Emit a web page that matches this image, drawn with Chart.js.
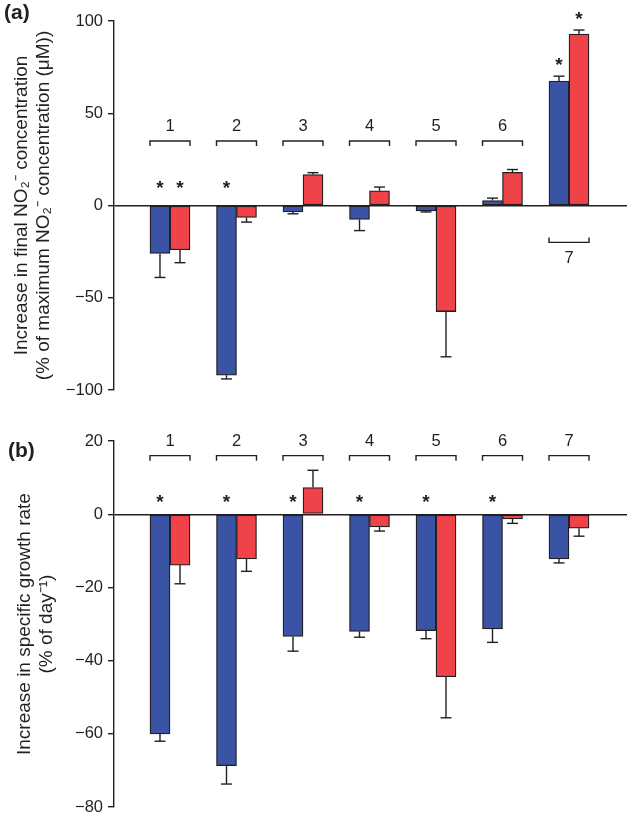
<!DOCTYPE html>
<html>
<head>
<meta charset="utf-8">
<script src="https://cdn.jsdelivr.net/npm/chart.js@4"></script>
<style>
  body { margin: 0; background: #fff; }
  #page { position: relative; width: 628px; height: 822px; font-family: "Liberation Sans", Arial, sans-serif; }
  .panel { position: absolute; left: 0; }
  .tag { position: absolute; font-weight: bold; font-size: 21px; color: #231f20; }
</style>
</head>
<body>
<div id="page">
  <div class="panel" style="top:0"><canvas id="chartA" width="628" height="410"></canvas></div>
  <div class="panel" style="top:410px"><canvas id="chartB" width="628" height="412"></canvas></div>
  <div class="tag" style="left:4px;top:0px">(a)</div>
  <div class="tag" style="left:8px;top:438px">(b)</div>
</div>
<script>
// treatment groups 1-7
const groups = ["1", "2", "3", "4", "5", "6", "7"];

// (a) increase in final NO2- concentration, % of maximum
const nitriteBlue = [-26, -92, -3.5, -7.6, -3, 2.7, 67.4];
const nitriteBlueErr = [13, 2, 1, 6, 0.5, 1.3, 2.7];
const nitriteRed = [-24, -6.5, 16.8, 8, -57.5, 18, 92.9];
const nitriteRedErr = [7, 2.5, 1, 2, 24.5, 1.5, 2.2];
const nitriteStarsBlue = [true, true, false, false, false, false, true];
const nitriteStarsRed = [true, false, false, false, false, false, true];
const nitriteTicks = [-100, -50, 0, 50, 100];

// (b) increase in specific growth rate, % of day-1
const growthBlue = [-60, -68.7, -33.4, -32, -31.8, -31.3, -12.2];
const growthBlueErr = [2, 5, 4, 1.6, 2.2, 3.7, 1.1];
const growthRed = [-13.9, -12.2, 7.3, -3.5, -44.4, -1.3, -3.8];
const growthRedErr = [5.1, 3.4, 4.7, 1.1, 11.2, 1.2, 2.2];
const growthStarsBlue = [true, true, true, true, true, true, false];
const growthStarsRed = [false, false, false, false, false, false, false];
const growthTicks = [-80, -60, -40, -20, 0, 20];

const BLUE = "#3a53a5";
const RED = "#ef4349";
const INK = "#231f20";
const FONT = "'Liberation Sans', Arial, sans-serif";

// draws error bars, asterisks and the numbered brackets
const annotatePlugin = {
  id: "annotate",
  afterDatasetsDraw(chart, args, opts) {
    const ctx = chart.ctx;
    const yScale = chart.scales.y;
    const metas = [chart.getDatasetMeta(0), chart.getDatasetMeta(1)];

    ctx.save();
    ctx.strokeStyle = INK;
    ctx.fillStyle = INK;
    ctx.lineWidth = 1.4;

    const line = (x1, y1, x2, y2) => {
      ctx.beginPath();
      ctx.moveTo(x1, y1);
      ctx.lineTo(x2, y2);
      ctx.stroke();
    };

    metas.forEach((meta, d) => {
      const values = chart.data.datasets[d].data;
      meta.data.forEach((bar, i) => {
        const v = values[i];
        const e = opts.errors[d][i];
        const end = v >= 0 ? v + e : v - e;
        const py0 = yScale.getPixelForValue(v);
        const py1 = yScale.getPixelForValue(end);
        line(bar.x, py0, bar.x, py1);
        line(bar.x - 5.5, py1, bar.x + 5.5, py1);

        if (opts.stars[d][i]) {
          let sy;
          if (v >= 0) sy = py1 - 14;
          else sy = yScale.getPixelForValue(opts.starLevel);
          ctx.font = "bold 19px " + FONT;
          ctx.textAlign = "center";
          ctx.textBaseline = "middle";
          ctx.fillText("*", bar.x, sy + 4);
        }
      });
    });

    // brackets
    ctx.font = "16.5px " + FONT;
    ctx.textAlign = "center";
    ctx.textBaseline = "middle";
    groups.forEach((g, i) => {
      const b0 = metas[0].data[i];
      const b1 = metas[1].data[i];
      const x1 = b0.x - b0.width / 2;
      const x2 = b1.x + b1.width / 2;
      const below = opts.bracketBelow[i];
      const by = yScale.getPixelForValue(below ? opts.bracketLevelBelow : opts.bracketLevel);
      const dir = below ? -5 : 5;
      ctx.beginPath();
      ctx.moveTo(x1, by + dir);
      ctx.lineTo(x1, by);
      ctx.lineTo(x2, by);
      ctx.lineTo(x2, by + dir);
      ctx.stroke();
      ctx.fillText(g, (x1 + x2) / 2, below ? by + 16 : by - 14);
    });

    ctx.restore();
  },
};

function makeChart(id, cfg) {
  return new Chart(document.getElementById(id), {
    type: "bar",
    data: {
      labels: groups,
      datasets: [
        {
          data: cfg.blue,
          backgroundColor: BLUE,
          borderColor: INK,
          borderWidth: 1.3,
          borderSkipped: false,
          barThickness: 20,
        },
        {
          data: cfg.red,
          backgroundColor: RED,
          borderColor: INK,
          borderWidth: 1.3,
          borderSkipped: false,
          barThickness: 20,
        },
      ],
    },
    options: {
      responsive: false,
      animation: false,
      devicePixelRatio: 1,
      layout: { padding: cfg.padding },
      plugins: {
        legend: { display: false },
        tooltip: { enabled: false },
        annotate: {
          errors: [cfg.blueErr, cfg.redErr],
          stars: [cfg.starsBlue, cfg.starsRed],
          starLevel: cfg.starLevel,
          bracketLevel: cfg.bracketLevel,
          bracketLevelBelow: cfg.bracketLevelBelow,
          bracketBelow: cfg.bracketBelow,
        },
      },
      scales: {
        x: {
          type: "linear",
          display: false,
          offset: false,
          min: 0.158,
          max: 7.872,
        },
        y: {
          min: cfg.ticks[0],
          max: cfg.ticks[cfg.ticks.length - 1],
          afterFit: (scale) => {
            scale.width = 114;
          },
          afterBuildTicks: (scale) => {
            scale.ticks = cfg.ticks.map((v) => ({ value: v }));
          },
          border: { display: true, color: INK, width: 1.4 },
          grid: {
            drawOnChartArea: true,
            color: (c) => (c.tick && c.tick.value === 0 ? INK : "rgba(0,0,0,0)"),
            lineWidth: 1.4,
            tickColor: INK,
            tickLength: 6,
          },
          ticks: {
            color: INK,
            padding: 5,
            font: { family: FONT, size: 16.5 },
            callback: (v) => String(v).replace("-", "\u2212"),
          },
          title: {
            display: true,
            text: cfg.title,
            color: INK,
            padding: { top: cfg.titlePad, bottom: 0 },
            font: { family: FONT, size: 19, lineHeight: 1.15 },
          },
        },
      },
    },
    plugins: [annotatePlugin],
  });
}

makeChart("chartA", {
  blue: nitriteBlue,
  red: nitriteRed,
  blueErr: nitriteBlueErr,
  redErr: nitriteRedErr,
  starsBlue: nitriteStarsBlue,
  starsRed: nitriteStarsRed,
  ticks: nitriteTicks,
  starLevel: 11,
  bracketLevel: 35,
  bracketLevelBelow: -20,
  bracketBelow: [false, false, false, false, false, false, true],
  padding: { top: 21, right: 1, bottom: 20, left: 0 },
  titlePad: 11,
  title: [
    "Increase in final NO\u2082\u207B concentration",
    "(% of maximum NO\u2082\u207B concentration (\u03BCM))",
  ],
});

makeChart("chartB", {
  blue: growthBlue,
  red: growthRed,
  blueErr: growthBlueErr,
  redErr: growthRedErr,
  starsBlue: growthStarsBlue,
  starsRed: growthStarsRed,
  ticks: growthTicks,
  starLevel: 4.3,
  bracketLevel: 16,
  bracketLevelBelow: 16,
  bracketBelow: [false, false, false, false, false, false, false],
  padding: { top: 31, right: 1, bottom: 12, left: 0 },
  titlePad: 14,
  title: ["Increase in specific growth rate", "(% of day\u207B\u00B9)"],
});
</script>
</body>
</html>
